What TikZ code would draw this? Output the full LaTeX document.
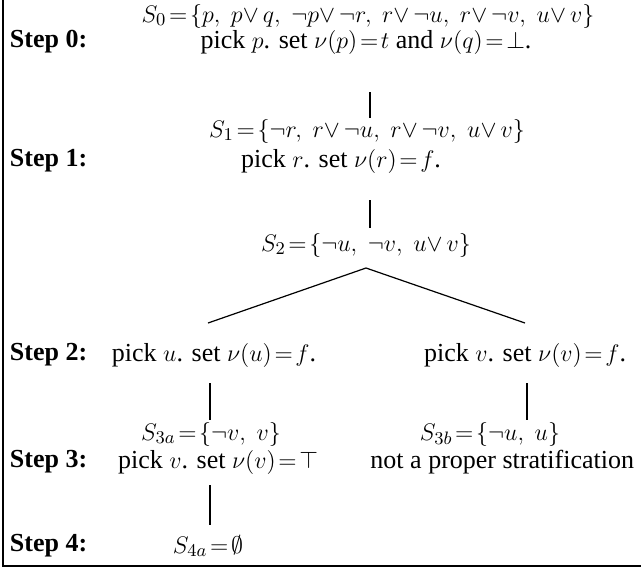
\documentclass[tikz,border=0pt]{standalone}
\usepackage[no-math]{fontspec}
\setmainfont{Liberation Serif}
\tikzset{
  txt/.style={inner sep=0pt, outer sep=0pt, font=\fontsize{13}{15}\selectfont},
  steplabel/.style={txt, anchor=west, font=\fontsize{13}{15}\selectfont\bfseries},
  thickline/.style={line width=1.4pt},
  thinline/.style={line width=0.8pt},
  diagline/.style={line width=0.6pt},
  frameline/.style={line width=1pt}
}
\newcommand{\vl}{{\vee}\,}
\begin{document}
\begin{tikzpicture}[x=0.5pt,y=-0.5pt]
\useasboundingbox (0,0) rectangle (641,569);
\draw[frameline] (3,0) -- (3,566) -- (641,566);
% row 0
\node[txt] (S0) at (368,16) {$S_0\!=\!\{p,\; p\vl q,\; \neg p\vl\neg r,\; r\vl\neg u,\; r\vl\neg v,\; u\vl v\}$};
\node[steplabel] (st0) at (10,42) {Step 0:};
\node[txt] (p0) at (366,42) {pick $p$. set $\nu(p)\!=\!t$ and $\nu(q)\!=\!\bot$.};
% row 1
\node[txt] (S1) at (367,131) {$S_1\!=\!\{\neg r,\; r\vl\neg u,\; r\vl\neg v,\; u\vl v\}$};
\node[steplabel] (st1) at (10,161) {Step 1:};
\node[txt] (p1) at (341,161) {pick $r$. set $\nu(r)\!=\!f$.};
% row 2
\node[txt] (S2) at (366,245) {$S_2\!=\!\{\neg u,\; \neg v,\; u\vl v\}$};
\node[steplabel] (st2) at (10,355) {Step 2:};
\node[txt] (p2a) at (214,355) {pick $u$. set $\nu(u)\!=\!f$.};
\node[txt, anchor=east] (p2b) at (626,355) {pick $v$. set $\nu(v)\!=\!f$.};
% row 3
\node[txt] (S3a) at (211,434) {$S_{3a}\!=\!\{\neg v,\; v\}$};
\node[txt] (S3b) at (490,434) {$S_{3b}\!=\!\{\neg u,\; u\}$};
\node[steplabel] (st3) at (10,462) {Step 3:};
\node[txt] (p3a) at (218,462) {pick $v$. set $\nu(v)\!=\!\top$};
\node[txt, anchor=east] (p3b) at (634,462) {not a proper stratification};
% row 4
\node[steplabel] (st4) at (10,546) {Step 4:};
\node[txt] (S4a) at (208,546) {$S_{4a}\!=\!\emptyset$};
% connectors
\coordinate (a0) at (370,92);  \coordinate (b0) at (370,118);
\coordinate (a1) at (370,200); \coordinate (b1) at (370,228);
\coordinate (apex) at (366,268);
\coordinate (dl) at (208,323); \coordinate (dr) at (525,323);
\coordinate (a3) at (210,383); \coordinate (b3) at (210,420);
\coordinate (a3r) at (527,383); \coordinate (b3r) at (527,420);
\coordinate (a4) at (210,485); \coordinate (b4) at (210,525);
\draw[thickline] (a0) -- (b0);
\draw[thickline] (a1) -- (b1);
\draw[diagline] (dl) -- (apex) -- (dr);
\draw[thinline] (a3) -- (b3);
\draw[thinline] (a3r) -- (b3r);
\draw[thinline] (a4) -- (b4);
\end{tikzpicture}
\end{document}
